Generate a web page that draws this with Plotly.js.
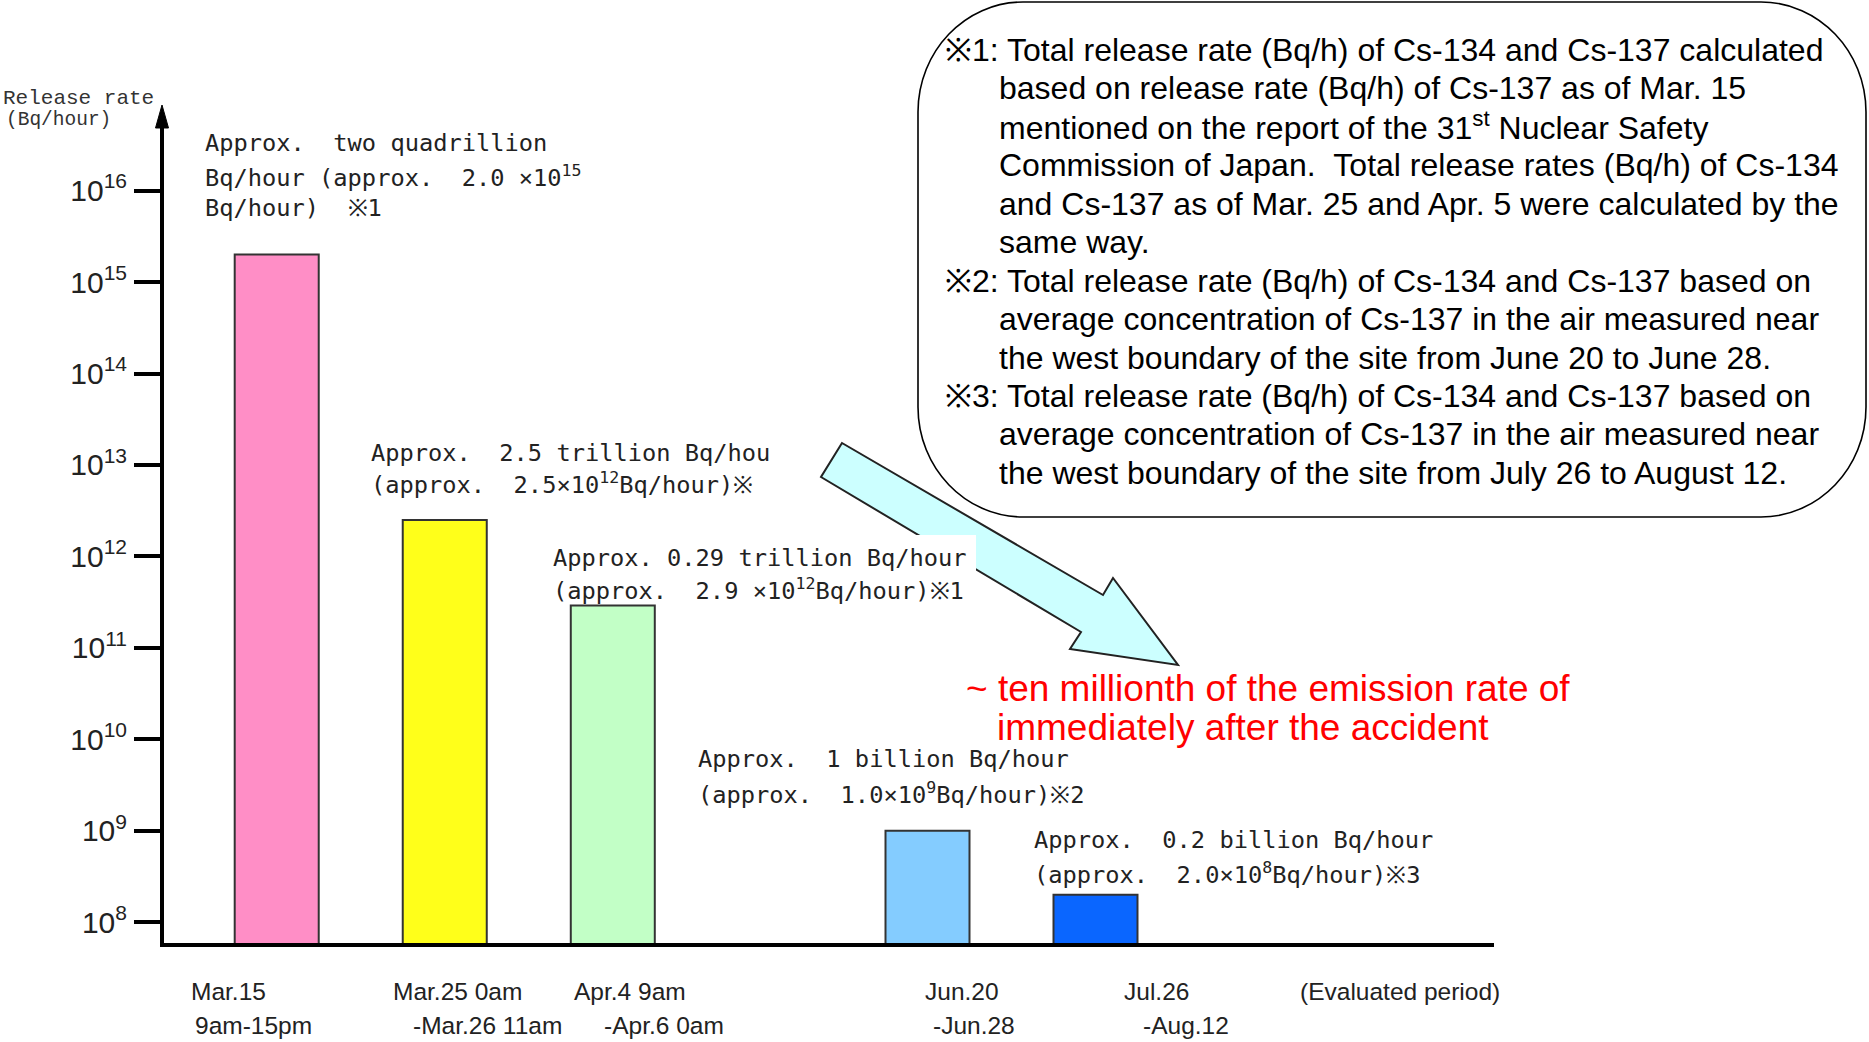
<!DOCTYPE html>
<html>
<head>
<meta charset="utf-8">
<script src="https://cdn.plot.ly/plotly-3.0.1.min.js"></script>
<style>html,body{margin:0;padding:0;background:#fff;}#chart{width:1869px;height:1042px;}</style>
</head>
<body>
<div id="chart"></div>
<script>
// ---------------- data ----------------
const periodStart = ['Mar.15', 'Mar.25 0am', 'Apr.4 9am', 'Jun.20', 'Jul.26'];
const periodEnd = ['9am-15pm', '-Mar.26 11am', '-Apr.6 0am', '-Jun.28', '-Aug.12'];
const releaseRate = [2.0e15, 2.5e12, 2.9e11, 1.0e9, 2.0e8];
const tickExponents = [8, 9, 10, 11, 12, 13, 14, 15, 16];
const periodAxisTitle = '(Evaluated period)';
const yTitleLines = ['Release rate', '(Bq/hour)'];
const valueNotes = [
  ['Approx.  two quadrillion', 'Bq/hour (approx.  2.0 ×10<sup>15</sup>', 'Bq/hour)  ※1'],
  ['Approx.  2.5 trillion Bq/hou', '(approx.  2.5×10<sup>12</sup>Bq/hour)※'],
  ['Approx. 0.29 trillion Bq/hour', '(approx.  2.9 ×10<sup>12</sup>Bq/hour)※1'],
  ['Approx.  1 billion Bq/hour', '(approx.  1.0×10<sup>9</sup>Bq/hour)※2'],
  ['Approx.  0.2 billion Bq/hour', '(approx.  2.0×10<sup>8</sup>Bq/hour)※3']
];
const footnoteLines = [
  '※1: Total release rate (Bq/h) of Cs-134 and Cs-137 calculated',
  'based on release rate (Bq/h) of Cs-137 as of Mar. 15',
  'mentioned on the report of the 31<sup>st</sup> Nuclear Safety',
  'Commission of Japan.  Total release rates (Bq/h) of Cs-134',
  'and Cs-137 as of Mar. 25 and Apr. 5 were calculated by the',
  'same way.',
  '※2: Total release rate (Bq/h) of Cs-134 and Cs-137 based on',
  'average concentration of Cs-137 in the air measured near',
  'the west boundary of the site from June 20 to June 28.',
  '※3: Total release rate (Bq/h) of Cs-134 and Cs-137 based on',
  'average concentration of Cs-137 in the air measured near',
  'the west boundary of the site from July 26 to August 12.'
];
const redNoteLines = ['~ ten millionth of the emission rate of', 'immediately after the accident'];

// ---------------- styles / layout geometry ----------------
const barColors = ['#FF8EC6', '#FFFF1A', '#C2FFC6', '#84CCFF', '#0A66FF'];
const W = 1869, H = 1042, T = 125, B = 945;
const px = x => x / W;
const py = y => (B - y) / (B - T);
const sp = s => s.replace(/  /g, ' \u00A0');

const monoFont = {family: 'DejaVu Sans Mono, Liberation Mono, monospace', size: 23.7, color: '#222'};
const sansFont = {family: 'Liberation Sans, Arial, sans-serif', size: 24.5, color: '#222'};

function ann(text, x, y, font, extra) {
  return Object.assign({text: sp(text), xref: 'paper', yref: 'paper', x: px(x), y: py(y),
    xanchor: 'left', yanchor: 'middle', showarrow: false, font: font}, extra || {});
}

const annotations = [];
// y axis title
annotations.push(ann(yTitleLines[0], 1, 99, {family: 'Liberation Mono, monospace', size: 21, color: '#333'}));
annotations.push(ann(yTitleLines[1], 4, 120, {family: 'Liberation Mono, monospace', size: 19.5, color: '#333'}));
// value notes
const notePos = [[203, [143, 176, 208]], [369, [453, 483]], [551, [558, 589]], [696, [759, 793]], [1032, [840, 873]]];
valueNotes.forEach((lines, i) => {
  lines.forEach((ln, j) => annotations.push(ann(ln, notePos[i][0], notePos[i][1][j], monoFont)));
});
// period labels
const labelX1 = [189, 391, 572, 923, 1122];
const labelX2 = [193, 411, 602, 931, 1141];
periodStart.forEach((t, i) => annotations.push(ann(t, labelX1[i], 991, sansFont)));
periodEnd.forEach((t, i) => annotations.push(ann(t, labelX2[i], 1025, sansFont)));
annotations.push(ann(periodAxisTitle, 1298, 991, sansFont));
// footnotes
const footY = [50, 88, 126, 165, 204, 242, 281, 319, 358, 396, 434, 473];
const footFont = {family: 'Liberation Sans, Arial, sans-serif', size: 32, color: '#000'};
footnoteLines.forEach((t, i) => {
  const x = t.indexOf('※') === 0 ? 943 : 997;
  annotations.push(ann(t, x, footY[i], footFont));
});
// red note
const redFont = {family: 'Liberation Sans, Arial, sans-serif', size: 37, color: '#FF0000'};
annotations.push(ann(redNoteLines[0], 964, 688, redFont));
annotations.push(ann(redNoteLines[1], 995, 727, redFont));

// shapes
function pathOf(pts) {
  return 'M' + pts.map(p => px(p[0]) + ',' + py(p[1])).join(' L') + ' Z';
}
const k = 0.5523;
function roundRect(x0, y0, x1, y1, rx, ry) {
  const P = (x, y) => px(x) + ',' + py(y);
  return 'M' + P(x0 + rx, y0) + ' L' + P(x1 - rx, y0) +
    ' C' + P(x1 - rx + k * rx, y0) + ' ' + P(x1, y0 + ry - k * ry) + ' ' + P(x1, y0 + ry) +
    ' L' + P(x1, y1 - ry) +
    ' C' + P(x1, y1 - ry + k * ry) + ' ' + P(x1 - rx + k * rx, y1) + ' ' + P(x1 - rx, y1) +
    ' L' + P(x0 + rx, y1) +
    ' C' + P(x0 + rx - k * rx, y1) + ' ' + P(x0, y1 - ry + k * ry) + ' ' + P(x0, y1 - ry) +
    ' L' + P(x0, y0 + ry) +
    ' C' + P(x0, y0 + ry - k * ry) + ' ' + P(x0 + rx - k * rx, y0) + ' ' + P(x0 + rx, y0) + ' Z';
}
const shapes = [
  // big cyan arrow
  {type: 'path', xref: 'paper', yref: 'paper', layer: 'above',
   path: pathOf([[842, 443], [821, 477], [1081, 632], [1070, 649], [1178, 665], [1113, 578], [1103, 595]]),
   fillcolor: '#CCFFFF', line: {color: '#222', width: 2}},
  // white box behind third note
  {type: 'rect', xref: 'paper', yref: 'paper', layer: 'above',
   x0: px(700), x1: px(976), y0: py(535), y1: py(612), fillcolor: '#fff', line: {width: 0}},
  // rounded footnote box
  {type: 'path', xref: 'paper', yref: 'paper', layer: 'above',
   path: roundRect(918, 2, 1866, 517, 105, 110), line: {color: '#000', width: 1.6}},
  // baseline
  {type: 'line', xref: 'paper', yref: 'paper', layer: 'above',
   x0: px(160), x1: px(1494), y0: py(945), y1: py(945), line: {color: '#000', width: 4}},
  // y axis arrow head
  {type: 'path', xref: 'paper', yref: 'paper', layer: 'above',
   path: pathOf([[162, 105], [155.5, 128], [168.5, 128]]), fillcolor: '#000', line: {color: '#000', width: 1}}
];

const traces = [
  {type: 'bar', x: periodStart.slice(0, 3), y: releaseRate.slice(0, 3), xaxis: 'x', yaxis: 'y',
   marker: {color: barColors.slice(0, 3), line: {color: '#333', width: 2}}, hoverinfo: 'none'},
  {type: 'bar', x: periodStart.slice(3), y: releaseRate.slice(3), xaxis: 'x2', yaxis: 'y',
   marker: {color: barColors.slice(3), line: {color: '#333', width: 2}}, hoverinfo: 'none'}
];

const layout = {
  width: W, height: H,
  margin: {l: 0, r: 0, t: T, b: H - B, pad: 0},
  paper_bgcolor: '#fff', plot_bgcolor: 'rgba(0,0,0,0)',
  showlegend: false,
  bargap: 0.5,
  xaxis: {domain: [px(192.7), px(696.8)], visible: false, type: 'category', anchor: 'y'},
  xaxis2: {domain: [px(843.5), px(1179.5)], visible: false, type: 'category', anchor: 'y'},
  yaxis: {type: 'log', range: [7.7515, 16.717], anchor: 'free', position: px(162),
    showline: true, linewidth: 4, linecolor: '#000', showgrid: false, zeroline: false,
    ticks: 'outside', ticklen: 26, tickwidth: 4, tickcolor: '#000',
    tickvals: tickExponents.map(e => Math.pow(10, e)),
    ticktext: tickExponents.map(e => '10<sup>' + e + '</sup>'),
    tickfont: {family: 'Liberation Sans, Arial, sans-serif', size: 30, color: '#222'},
    ticklabelstandoff: 1},
  shapes: shapes,
  annotations: annotations
};

Plotly.newPlot('chart', traces, layout, {displayModeBar: false});
</script>
</body>
</html>
